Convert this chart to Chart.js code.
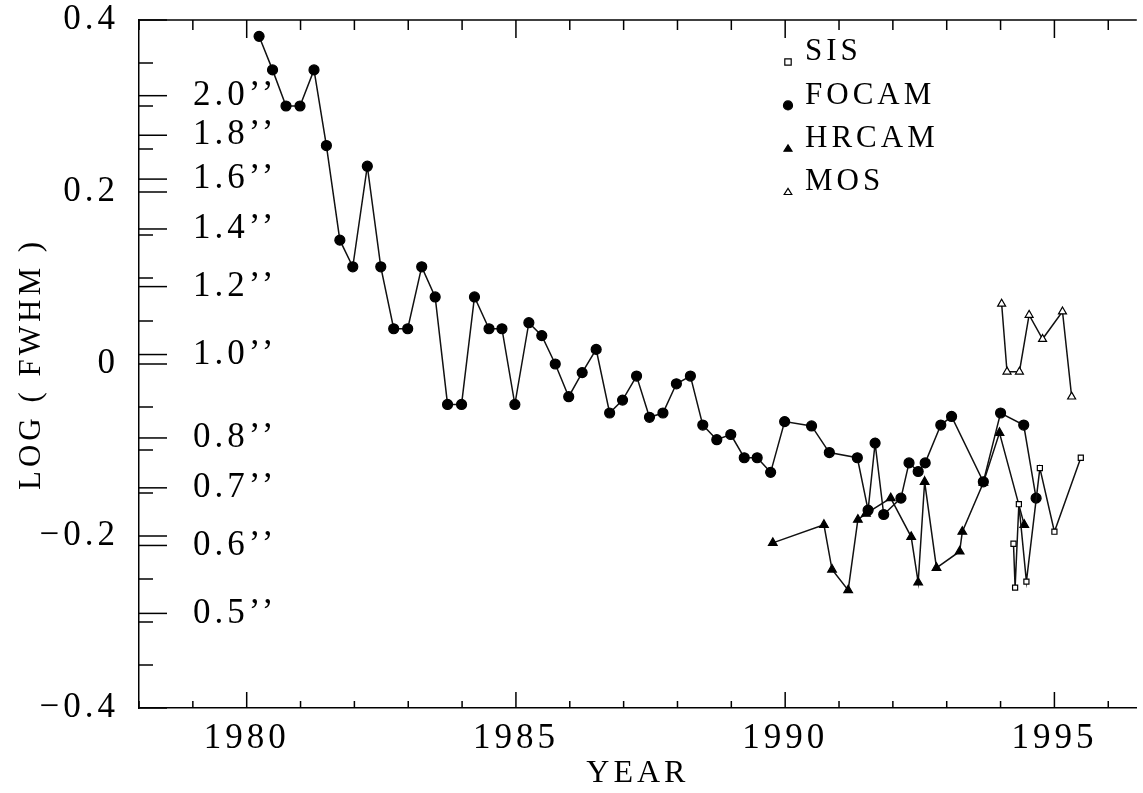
<!DOCTYPE html>
<html>
<head>
<meta charset="utf-8">
<script src="https://cdn.jsdelivr.net/npm/chart.js@4"></script>
<style>
html,body{margin:0;padding:0;background:#fff;}
canvas{display:block;}
</style>
</head>
<body>
<canvas id="c" width="1143" height="793"></canvas>
<script>
// ---------------- data ----------------
const seriesNames = ['SIS', 'FOCAM', 'HRCAM', 'MOS'];

const sisYears = [1994.24, 1994.27, 1994.34, 1994.48, 1994.73, 1995.00, 1995.49];
const sisLog   = [-0.209, -0.260, -0.163, -0.253, -0.121, -0.195, -0.109];

const focamYears = [1980.23, 1980.48, 1980.73, 1980.99, 1981.25, 1981.48, 1981.73, 1981.97,
  1982.24, 1982.49, 1982.73, 1982.99, 1983.25, 1983.50, 1983.73, 1983.99, 1984.23, 1984.50,
  1984.74, 1984.98, 1985.24, 1985.48, 1985.73, 1985.98, 1986.23, 1986.49, 1986.74, 1986.98,
  1987.24, 1987.48, 1987.73, 1987.98, 1988.24, 1988.47, 1988.73, 1988.99, 1989.24, 1989.48,
  1989.73, 1989.99, 1990.49, 1990.82, 1991.34, 1991.54, 1991.67, 1991.83, 1992.15, 1992.30,
  1992.47, 1992.60, 1992.89, 1993.09, 1993.68, 1994.00, 1994.43, 1994.66];
const focamLog = [0.381, 0.342, 0.300, 0.300, 0.342, 0.254, 0.144, 0.113,
  0.230, 0.113, 0.041, 0.041, 0.113, 0.078, -0.047, -0.047, 0.078, 0.041,
  0.041, -0.047, 0.048, 0.033, 0.000, -0.038, -0.010, 0.017, -0.057, -0.042,
  -0.014, -0.062, -0.057, -0.023, -0.014, -0.071, -0.088, -0.082, -0.109, -0.109,
  -0.126, -0.067, -0.072, -0.103, -0.109, -0.170, -0.092, -0.175, -0.156, -0.115,
  -0.125, -0.115, -0.071, -0.061, -0.137, -0.057, -0.071, -0.156];

const hrcamYears = [1989.77, 1990.72, 1990.87, 1991.17, 1991.35, 1991.50, 1991.96, 1992.34,
  1992.47, 1992.59, 1992.81, 1993.24, 1993.29, 1993.68, 1993.98, 1994.44];
const hrcamLog = [-0.208, -0.187, -0.239, -0.263, -0.181, -0.174, -0.156, -0.201,
  -0.254, -0.137, -0.237, -0.218, -0.195, -0.138, -0.080, -0.187];

const mosYears = [1994.02, 1994.12, 1994.35, 1994.53, 1994.78, 1995.15, 1995.32];
const mosLog   = [0.070, -0.009, -0.009, 0.057, 0.029, 0.061, -0.038];

// tick labels
const xLabelYears = [1980, 1985, 1990, 1995];
const yLabelValues = [0.4, 0.2, 0, -0.2, -0.4];
const yLabelTexts  = ['0.4', '0.2', '0', '\u22120.2', '\u22120.4'];
const arcsecLabels = ['2.0\u2019\u2019', '1.8\u2019\u2019', '1.6\u2019\u2019', '1.4\u2019\u2019', '1.2\u2019\u2019',
  '1.0\u2019\u2019', '0.8\u2019\u2019', '0.7\u2019\u2019', '0.6\u2019\u2019', '0.5\u2019\u2019'];
const arcsecTickValues = [0.312, 0.266, 0.215, 0.157, 0.090, 0.011, -0.086, -0.144, -0.211, -0.290];
const xTitle = 'YEAR';
const yTitle = 'LOG ( FWHM )';

// ---------------- chart ----------------
const FONT = "'Liberation Serif', 'Times New Roman', serif";
const INK = '#000';

function pts(xs, ys) { return xs.map((x, i) => ({x: x, y: ys[i]})); }
function yLabelIndex(v) { return yLabelValues.findIndex(t => Math.abs(t - v) < 1e-6); }

function drawMarker(ctx, style, x, y, r, filled) {
  ctx.beginPath();
  if (style === 'rect') {
    ctx.rect(x - r, y - r, 2 * r, 2 * r);
  } else if (style === 'circle') {
    ctx.arc(x, y, r, 0, Math.PI * 2);
  } else if (style === 'triangle') {
    ctx.moveTo(x, y - r);
    ctx.lineTo(x + r, y + r * 0.6);
    ctx.lineTo(x - r, y + r * 0.6);
    ctx.closePath();
  }
  ctx.fillStyle = filled ? INK : '#fff';
  ctx.fill();
  ctx.lineWidth = 1.2;
  ctx.strokeStyle = INK;
  ctx.stroke();
}

const framePlugin = {
  id: 'frame',
  beforeDraw(chart) {
    chart.ctx.letterSpacing = '4px';
  },
  beforeDatasetsDraw(chart) {
    const ctx = chart.ctx, a = chart.chartArea, x = chart.scales.x, y = chart.scales.y;
    ctx.save();
    ctx.strokeStyle = INK;
    ctx.lineWidth = 1.5;
    // top frame line
    ctx.beginPath(); ctx.moveTo(a.left, a.top); ctx.lineTo(a.right, a.top); ctx.stroke();
    // x ticks (inward, bottom and top)
    x.ticks.forEach(t => {
      const v = t.value;
      if (Math.abs(v - Math.round(v)) > 1e-6) return;
      const px = x.getPixelForValue(v);
      const major = xLabelYears.includes(Math.round(v));
      ctx.beginPath();
      ctx.moveTo(px, a.bottom); ctx.lineTo(px, a.bottom - (major ? 16 : 7));
      ctx.moveTo(px, a.top); ctx.lineTo(px, a.top + (major ? 18 : 10));
      ctx.stroke();
    });
    // y ticks (inward)
    y.ticks.forEach(t => {
      const py = y.getPixelForValue(t.value);
      const major = yLabelIndex(t.value) >= 0;
      ctx.beginPath(); ctx.moveTo(a.left, py); ctx.lineTo(a.left + (major ? 28 : 14), py); ctx.stroke();
    });
    // arcsecond ticks + labels
    ctx.font = '35px ' + FONT;
    ctx.letterSpacing = '4px';
    ctx.textBaseline = 'middle';
    ctx.textAlign = 'left';
    ctx.fillStyle = INK;
    arcsecTickValues.forEach((v, i) => {
      const py = y.getPixelForValue(v);
      ctx.beginPath(); ctx.moveTo(a.left, py); ctx.lineTo(a.left + 28, py); ctx.stroke();
      ctx.fillText(arcsecLabels[i], a.left + 54, py);
    });
    ctx.restore();
  },
  afterDraw(chart) {
    const ctx = chart.ctx;
    ctx.save();
    ctx.font = '31px ' + FONT;
    ctx.letterSpacing = '4px';
    ctx.textBaseline = 'middle';
    ctx.textAlign = 'left';
    chart.data.datasets.forEach((ds, i) => {
      const cy = 52 + i * 43.4;
      const mx = 788;
      drawMarker(ctx, ds.pointStyle, mx, cy + 10, ds.legendRadius, ds.pointBackgroundColor === INK);
      ctx.fillStyle = INK;
      ctx.fillText(ds.label, 805, cy);
    });
    ctx.restore();
  }
};

const commonDs = {
  showLine: true, fill: false, tension: 0, borderColor: '#111', borderWidth: 1.5,
  pointBorderColor: INK, pointBorderWidth: 1.2
};

function noPad(s) { s.paddingTop = 0; s.paddingBottom = 0; s.paddingLeft = 0; s.paddingRight = 0; }

new Chart(document.getElementById('c'), {
  type: 'scatter',
  data: {
    datasets: [
      Object.assign({}, commonDs, {label: seriesNames[0], data: pts(sisYears, sisLog),
        pointStyle: 'rect', pointRadius: 3.6, pointBackgroundColor: '#fff', legendRadius: 3.2}),
      Object.assign({}, commonDs, {label: seriesNames[1], data: pts(focamYears, focamLog),
        pointStyle: 'circle', pointRadius: 5, pointBackgroundColor: INK, legendRadius: 4.5}),
      Object.assign({}, commonDs, {label: seriesNames[2], data: pts(hrcamYears, hrcamLog),
        pointStyle: 'triangle', pointRadius: 5, pointBackgroundColor: INK, legendRadius: 4}),
      Object.assign({}, commonDs, {label: seriesNames[3], data: pts(mosYears, mosLog),
        pointStyle: 'triangle', pointRadius: 4.6, pointBackgroundColor: '#fff', legendRadius: 3.8})
    ]
  },
  options: {
    responsive: false,
    animation: false,
    devicePixelRatio: 1,
    layout: {padding: {top: 20, right: 0, bottom: 0, left: 0}},
    plugins: {legend: {display: false}, tooltip: {enabled: false}},
    scales: {
      x: {
        type: 'linear', min: 1978, max: 1996.53,
        afterFit(s) { s.height = 85; noPad(s); },
        grid: {display: false, drawTicks: false},
        border: {display: true, color: INK, width: 1.5},
        ticks: {
          stepSize: 1, autoSkip: false, includeBounds: false, maxRotation: 0, padding: 10,
          color: INK, font: {family: FONT, size: 35},
          callback: v => xLabelYears.includes(v) ? String(v) : ''
        },
        title: {display: true, text: xTitle, color: INK, font: {family: FONT, size: 32}, padding: {top: 0, bottom: 0}}
      },
      y: {
        type: 'linear', min: -0.4, max: 0.4,
        afterFit(s) { s.width = 139; noPad(s); },
        grid: {display: false, drawTicks: false},
        border: {display: true, color: INK, width: 1.5},
        ticks: {
          stepSize: 0.05, autoSkip: false, includeBounds: false, padding: 20,
          color: INK, font: {family: FONT, size: 35},
          callback: v => { const i = yLabelIndex(v); return i >= 0 ? yLabelTexts[i] : ''; }
        },
        title: {display: true, text: yTitle, color: INK, font: {family: FONT, size: 31}, padding: {top: 13, bottom: 0}}
      }
    }
  },
  plugins: [framePlugin]
});
</script>
</body>
</html>
